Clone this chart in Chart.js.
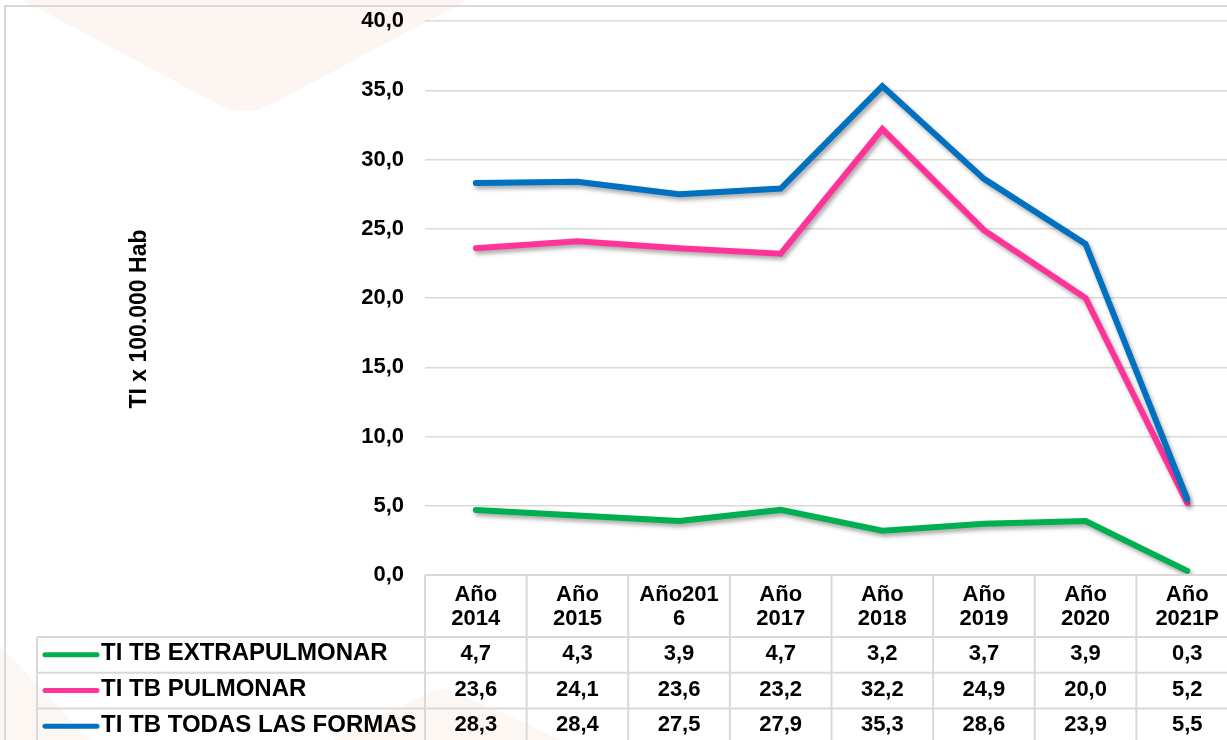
<!DOCTYPE html>
<html>
<head>
<meta charset="utf-8">
<script src="https://cdn.jsdelivr.net/npm/chart.js@4.4.1/dist/chart.umd.min.js"></script>
<style>
  html, body { margin: 0; padding: 0; background: #fff; overflow: hidden; }
  #wrap { width: 1245px; height: 746px; }
</style>
</head>
<body>
<div id="wrap"><canvas id="tbChart" width="1245" height="746"></canvas></div>
<script>
// categories (header of the data table)
const years = [['Año', '2014'], ['Año', '2015'], ['Año201', '6'], ['Año', '2017'],
               ['Año', '2018'], ['Año', '2019'], ['Año', '2020'], ['Año', '2021P']];

// series
const extrapulmonar = [4.7, 4.3, 3.9, 4.7, 3.2, 3.7, 3.9, 0.3];
const pulmonar      = [23.6, 24.1, 23.6, 23.2, 32.2, 24.9, 20.0, 5.2];
const todasFormas   = [28.3, 28.4, 27.5, 27.9, 35.3, 28.6, 23.9, 5.5];

const seriesNames = ['TI TB EXTRAPULMONAR', 'TI TB PULMONAR', 'TI TB TODAS LAS FORMAS'];
const yTitle = 'TI x 100.000 Hab';
const yMax = 40;
const yStep = 5;

const FONT = '"Liberation Sans", Arial, sans-serif';
const GRID = '#d9d9d9';
const fmt = v => v.toFixed(1).replace('.', ',');

// faint slide background + outer frame
const backdrop = {
    id: 'backdrop',
    beforeDraw(chart) {
        const ctx = chart.ctx;
        ctx.save();
        ctx.fillStyle = '#fcf5f2';
        ctx.beginPath();
        ctx.moveTo(22, 0);
        ctx.lineTo(467, 0);
        ctx.lineTo(276, 102);
        ctx.quadraticCurveTo(245, 120, 214, 102);
        ctx.closePath();
        ctx.fill();

        ctx.fillStyle = '#fdf7f4';
        ctx.beginPath();
        ctx.moveTo(0, 645);
        ctx.lineTo(95, 746);
        ctx.lineTo(0, 746);
        ctx.closePath();
        ctx.fill();
        ctx.beginPath();
        ctx.moveTo(320, 746);
        ctx.lineTo(430, 692);
        ctx.quadraticCurveTo(445, 686, 460, 694);
        ctx.lineTo(575, 746);
        ctx.closePath();
        ctx.fill();

        ctx.strokeStyle = GRID;
        ctx.lineWidth = 2;
        ctx.beginPath();
        ctx.moveTo(5, 760);
        ctx.lineTo(5, 6);
        ctx.lineTo(1260, 6);
        ctx.stroke();
        ctx.restore();
    }
};

// soft drop shadow under the lines
const lineShadow = {
    id: 'lineShadow',
    beforeDatasetDraw(chart) {
        const ctx = chart.ctx;
        ctx.save();
        ctx.shadowColor = 'rgba(0,0,0,0.35)';
        ctx.shadowBlur = 4;
        ctx.shadowOffsetX = 2;
        ctx.shadowOffsetY = 3;
    },
    afterDatasetDraw(chart) {
        chart.ctx.restore();
    }
};

// data table under the x axis + rotated axis title
const dataTable = {
    id: 'dataTable',
    afterDraw(chart) {
        const ctx = chart.ctx;
        const x = chart.scales.x;
        const n = chart.data.labels.length;
        const colW = (x.right - x.left) / n;
        const headBottom = x.bottom;
        const rowH = 35.7;
        const tableLeft = 37;
        const tableBottom = headBottom + rowH * 3;

        ctx.save();
        ctx.strokeStyle = GRID;
        ctx.lineWidth = 2;
        ctx.beginPath();
        for (let i = 0; i <= n; i++) {
            const px = x.left + i * colW;
            ctx.moveTo(px, x.top);
            ctx.lineTo(px, tableBottom);
        }
        ctx.moveTo(x.left, x.top);
        ctx.lineTo(x.right, x.top);
        ctx.moveTo(tableLeft, headBottom);
        ctx.lineTo(tableLeft, tableBottom);
        for (let r = 0; r <= 3; r++) {
            const py = headBottom + r * rowH;
            ctx.moveTo(tableLeft, py);
            ctx.lineTo(x.right, py);
        }
        ctx.stroke();

        chart.data.datasets.forEach((ds, r) => {
            const cy = headBottom + (r + 0.5) * rowH - 1;
            ctx.strokeStyle = ds.borderColor;
            ctx.lineWidth = 5;
            ctx.lineCap = 'round';
            ctx.beginPath();
            ctx.moveTo(45, cy + 1);
            ctx.lineTo(97, cy + 1);
            ctx.stroke();

            ctx.fillStyle = '#000';
            ctx.textBaseline = 'middle';
            ctx.textAlign = 'left';
            ctx.font = 'bold 24px ' + FONT;
            ctx.fillText(ds.label, 101, cy);

            ctx.textAlign = 'center';
            ctx.font = 'bold 22px ' + FONT;
            ds.data.forEach((v, i) => ctx.fillText(fmt(v), x.getPixelForValue(i), cy));
        });

        ctx.translate(140, 319);
        ctx.rotate(-Math.PI / 2);
        ctx.font = 'bold 23px ' + FONT;
        ctx.textAlign = 'center';
        ctx.textBaseline = 'middle';
        ctx.fillText(yTitle, 0, 0);
        ctx.restore();
    }
};

const lineStyle = {
    borderWidth: 6,
    pointRadius: 0,
    pointHoverRadius: 0,
    tension: 0,
    borderCapStyle: 'round',
    borderJoinStyle: 'miter',
    fill: false
};

new Chart(document.getElementById('tbChart'), {
    type: 'line',
    data: {
        labels: years,
        datasets: [
            { label: seriesNames[0], data: extrapulmonar, borderColor: '#00b050', order: 2, ...lineStyle },
            { label: seriesNames[1], data: pulmonar, borderColor: '#ff3399', order: 1, ...lineStyle },
            { label: seriesNames[2], data: todasFormas, borderColor: '#0070c0', order: 0, ...lineStyle }
        ]
    },
    options: {
        responsive: false,
        devicePixelRatio: 1,
        animation: false,
        layout: { padding: { top: 21, right: 7, bottom: 109, left: 0 } },
        plugins: {
            legend: { display: false },
            tooltip: { enabled: false }
        },
        scales: {
            x: {
                offset: true,
                grid: { display: false },
                border: { display: false },
                ticks: {
                    color: '#000',
                    font: { family: FONT, size: 22, weight: 'bold', lineHeight: 1.1 },
                    padding: 0,
                    maxRotation: 0,
                    autoSkip: false
                },
                afterFit(scale) { scale.height = 62; }
            },
            y: {
                min: 0,
                max: yMax,
                grid: { color: GRID, lineWidth: 1.5, drawTicks: false },
                border: { display: false },
                ticks: {
                    stepSize: yStep,
                    color: '#000',
                    font: { family: FONT, size: 22, weight: 'bold' },
                    padding: 21,
                    callback: v => fmt(v)
                },
                afterFit(scale) {
                    scale.width = 425;
                    scale.paddingTop = 0;
                    scale.paddingBottom = 0;
                }
            }
        }
    },
    plugins: [backdrop, lineShadow, dataTable]
});
</script>
</body>
</html>
